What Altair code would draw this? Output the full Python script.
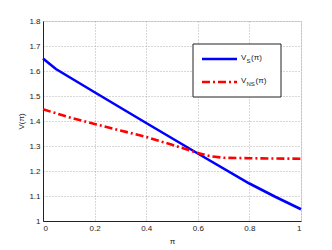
import altair as alt
import pandas as pd

# Data
pi_s = [0.0, 0.05, 0.2, 0.4, 0.6, 0.8, 0.9, 1.0]
v_s = [1.65, 1.608, 1.515, 1.392, 1.27, 1.15, 1.097, 1.047]
pi_ns = [0.0, 0.1, 0.2, 0.3, 0.4, 0.5, 0.6, 0.65, 0.7, 0.8, 0.9, 1.0]
v_ns = [1.447, 1.415, 1.388, 1.362, 1.336, 1.305, 1.272, 1.259, 1.253, 1.251, 1.25, 1.249]
x_ticks = [0, 0.2, 0.4, 0.6, 0.8, 1.0]
y_ticks = [1, 1.1, 1.2, 1.3, 1.4, 1.5, 1.6, 1.7, 1.8]

W, H = 258, 200
FONT = "Liberation Sans"

df_s = pd.DataFrame({"pi": pi_s, "v": v_s})
df_ns = pd.DataFrame({"pi": pi_ns, "v": v_ns})

xs = alt.Scale(domain=[0, 1], nice=False, zero=False)
ys = alt.Scale(domain=[1, 1.8], nice=False, zero=False)

common = dict(grid=True, gridDash=[1, 2], gridColor="#aaaaaa", gridOpacity=0.9,
              ticks=False, labelFontSize=8, titleFontSize=8, labelOverlap=False,
              titleFontWeight="normal", domainColor="#222222",
              labelFont=FONT, titleFont=FONT, labelColor="#222222", titleColor="#222222")

xaxis = alt.Axis(title="π", values=x_ticks, format="~f", tickCount=len(x_ticks),
                 labelPadding=3, titlePadding=5, **common)
yaxis = alt.Axis(title="V(π)", values=y_ticks, format="~f", tickCount=len(y_ticks),
                 labelPadding=3, titlePadding=3, **common)

line_s = alt.Chart(df_s).mark_line(color="#0000ff", strokeWidth=2.6).encode(
    x=alt.X("pi:Q", scale=xs, axis=xaxis),
    y=alt.Y("v:Q", scale=ys, axis=yaxis),
)
line_ns = alt.Chart(df_ns).mark_line(color="#ff0000", strokeWidth=2.6, strokeDash=[8, 3, 2, 3]).encode(
    x=alt.X("pi:Q", scale=xs, axis=xaxis),
    y=alt.Y("v:Q", scale=ys, axis=yaxis),
)

# Legend (built manually to allow subscripts)
leg_box = alt.Chart(pd.DataFrame({"a": [0]})).mark_rect(
    fill="white", stroke="#222222", strokeWidth=1
).encode(x=alt.value(150), x2=alt.value(238), y=alt.value(23), y2=alt.value(76))

leg_s = alt.Chart(pd.DataFrame({"a": [0]})).mark_rule(color="#0000ff", strokeWidth=2.6).encode(
    x=alt.value(159), x2=alt.value(194), y=alt.value(38))
leg_ns = alt.Chart(pd.DataFrame({"a": [0]})).mark_rule(color="#ff0000", strokeWidth=2.6,
                                                       strokeDash=[8, 3, 2, 3]).encode(
    x=alt.value(159), x2=alt.value(194), y=alt.value(61))

def txt(s, x, y, size):
    return alt.Chart(pd.DataFrame({"t": [s]})).mark_text(
        align="left", baseline="middle", font=FONT, fontSize=size, color="#222222"
    ).encode(text="t:N", x=alt.value(x), y=alt.value(y))

legend_text = [
    txt("V", 198, 37, 8), txt("S", 203.5, 40, 6), txt("(π)", 208, 37, 8),
    txt("V", 198, 60, 8), txt("NS", 203.5, 63, 6), txt("(π)", 212.5, 60, 8),
]

chart = alt.layer(line_s, line_ns, leg_box, leg_s, leg_ns, *legend_text).properties(
    width=W, height=H,
    autosize=alt.AutoSizeParams(type="none"),
    padding={"left": 35, "top": 13, "right": 20, "bottom": 26},
).configure_view(stroke="#222222", strokeWidth=1).configure(background="white")

chart.save("out.html", embed_options={"renderer": "svg", "actions": False})
